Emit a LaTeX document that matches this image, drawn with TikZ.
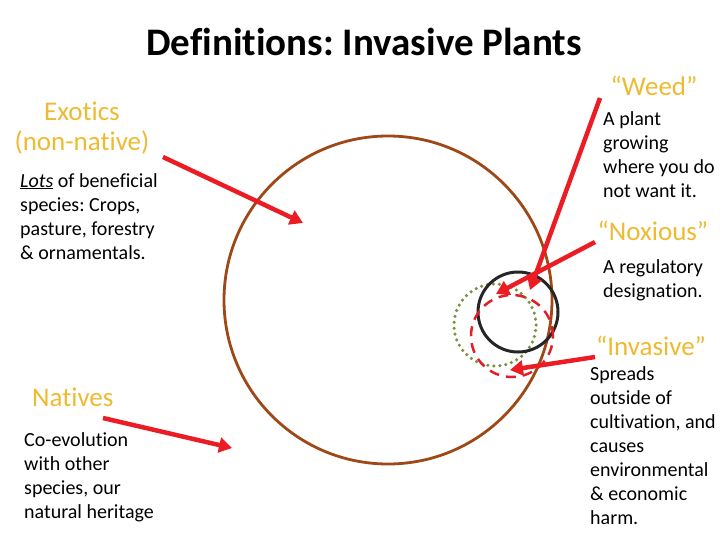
\documentclass[tikz,border=0pt]{standalone}
\usepackage{fontspec}
\setmainfont{Carlito}[Ligatures=NoCommon]
\frenchspacing
\usetikzlibrary{arrows.meta}
\definecolor{gold}{RGB}{238,186,48}
\definecolor{ringbrown}{RGB}{158,72,24}
\definecolor{arrowred}{RGB}{236,28,36}
\definecolor{dashred}{RGB}{226,30,40}
\definecolor{olivegreen}{RGB}{119,147,60}
\begin{document}
\begin{tikzpicture}[x=1pt,y=-1pt,
  head/.style={font=\fontsize{27}{30}\selectfont, text=gold, inner sep=0pt},
  body/.style={font=\fontsize{20}{24}\selectfont\frenchspacing, inner sep=0pt, text width=170pt, align=flush left, anchor=base west},
  ring/.style={circle, inner sep=0pt},
  redarrow/.style={draw=arrowred, line width=4.5pt, -{Triangle[length=13pt,width=15pt]}}
]
\useasboundingbox (0,0) rectangle (728,546);

% title
\node[font=\fontsize{39}{42}\selectfont\bfseries\frenchspacing, anchor=base] (title) at (364,55) {Definitions: Invasive Plants};

% circles
\node[ring, draw=ringbrown, line width=2.8pt, minimum size=328pt] (big) at (388,300) {};
\node[ring, draw=olivegreen, line width=3.5pt, dash pattern=on 0pt off 6pt, line cap=round, minimum size=82pt] (green) at (495,325) {};
\node[ring, draw=black!85, line width=3pt, minimum size=80pt] (black) at (518,312) {};
\node[ring, draw=dashred, line width=2.5pt, dash pattern=on 10pt off 7pt, minimum size=82pt] (reddash) at (512,336) {};

% labels
\node[head, align=center, text width=160pt, anchor=base] (exotics) at (82,120) {Exotics\\(non-native)};
\node[body] (exoticsbody) at (20,187) {\underline{\textit{Lots}} of beneficial\\species: Crops,\\pasture, forestry\\\& ornamentals.};

\node[head, anchor=base] (weed) at (654,95) {“Weed”};
\node[body] (weedbody) at (603,125) {A plant\\growing\\where you do\\not want it.};

\node[head, anchor=base] (noxious) at (653,240) {“Noxious”};
\node[body] (noxiousbody) at (603,273) {A regulatory\\designation.};

\node[head, anchor=base] (invasive) at (651,355) {“Invasive”};
\node[body] (invasivebody) at (590,380) {Spreads\\outside of\\cultivation, and\\causes\\environmental\\\& economic\\harm.};

\node[head, anchor=base west] (natives) at (32,406) {Natives};
\node[body] (nativesbody) at (24,446) {Co-evolution\\with other\\species, our\\natural heritage};

% arrow anchors
\coordinate (exoticsA) at (163,157);
\coordinate (exoticsB) at (303,223);
\coordinate (nativesA) at (103,418);
\coordinate (nativesB) at (232,448);
\coordinate (weedA) at (600,98);
\coordinate (weedB) at (530,290);
\coordinate (noxiousA) at (595,242);
\coordinate (noxiousB) at (496,294);
\coordinate (invasiveA) at (595,357);
\coordinate (invasiveB) at (510,370);

\draw[redarrow] (exoticsA) -- (exoticsB);
\draw[redarrow] (nativesA) -- (nativesB);
\draw[redarrow] (weedA) -- (weedB);
\draw[redarrow] (noxiousA) -- (noxiousB);
\draw[redarrow] (invasiveA) -- (invasiveB);
\end{tikzpicture}
\end{document}
